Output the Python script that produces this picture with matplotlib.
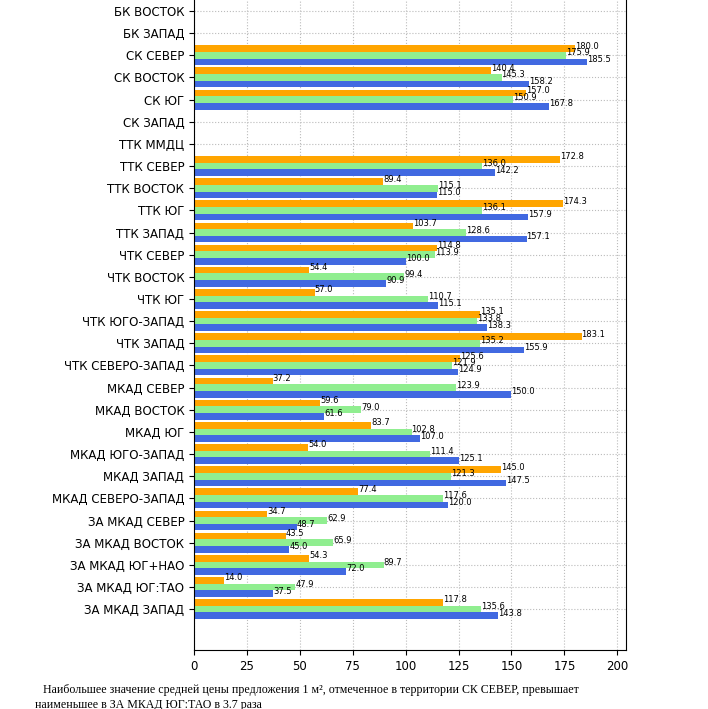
import numpy as np
import matplotlib
matplotlib.use("Agg")
import matplotlib.pyplot as plt

categories = ["БК ВОСТОК", "БК ЗАПАД", "СК СЕВЕР", "СК ВОСТОК", "СК ЮГ", "СК ЗАПАД",
              "ТТК ММДЦ", "ТТК СЕВЕР", "ТТК ВОСТОК", "ТТК ЮГ", "ТТК ЗАПАД",
              "ЧТК СЕВЕР", "ЧТК ВОСТОК", "ЧТК ЮГ", "ЧТК ЮГО-ЗАПАД", "ЧТК ЗАПАД",
              "ЧТК СЕВЕРО-ЗАПАД", "МКАД СЕВЕР", "МКАД ВОСТОК", "МКАД ЮГ",
              "МКАД ЮГО-ЗАПАД", "МКАД ЗАПАД", "МКАД СЕВЕРО-ЗАПАД", "ЗА МКАД СЕВЕР",
              "ЗА МКАД ВОСТОК", "ЗА МКАД ЮГ+НАО", "ЗА МКАД ЮГ:ТАО", "ЗА МКАД ЗАПАД"]
nan = np.nan
orange_vals = [nan, nan, 180.0, 140.4, 157.0, nan, nan, 172.8, 89.4, 174.3, 103.7,
               114.8, 54.4, 57.0, 135.1, 183.1, 125.6, 37.2, 59.6, 83.7, 54.0, 145.0,
               77.4, 34.7, 43.5, 54.3, 14.0, 117.8]
green_vals = [nan, nan, 175.9, 145.3, 150.9, nan, nan, 136.0, 115.1, 136.1, 128.6,
              113.9, 99.4, 110.7, 133.8, 135.2, 121.9, 123.9, 79.0, 102.8, 111.4, 121.3,
              117.6, 62.9, 65.9, 89.7, 47.9, 135.6]
blue_vals = [nan, nan, 185.5, 158.2, 167.8, nan, nan, 142.2, 115.0, 157.9, 157.1,
             100.0, 90.9, 115.1, 138.3, 155.9, 124.9, 150.0, 61.6, 107.0, 125.1, 147.5,
             120.0, 48.7, 45.0, 72.0, 37.5, 143.8]
x_ticks = [0, 25, 50, 75, 100, 125, 150, 175, 200]
caption1 = " Наибольшее значение средней цены предложения 1 м², отмеченное в территории СК СЕВЕР, превышает"
caption2 = "наименьшее в ЗА МКАД ЮГ:ТАО в 3.7 раза"

fig = plt.figure(figsize=(7.08, 7.09), dpi=100)
ax = fig.add_axes([0.274, 0.0832, 0.610, 0.959])

y = np.arange(len(categories))
h = 0.3
series = [(orange_vals, "orange", -h), (green_vals, "lightgreen", 0.0), (blue_vals, "royalblue", h)]
for vals, col, off in series:
    v = np.array(vals, dtype=float)
    ax.barh(y + off, v, height=h, color=col, zorder=2)
    for yi, vi in zip(y + off, v):
        if not np.isnan(vi):
            ax.text(vi, yi, f"{vi:.1f}", fontsize=6, color="black", zorder=3)

lo = y[0] - 1.5 * h
hi = y[-1] + 1.5 * h
m = 0.05 * (hi - lo)
ax.set_ylim(hi + m, lo - m)
ax.set_yticks(y)
ax.set_yticklabels(categories, fontsize=8.5)
ax.set_xticks(x_ticks)
ax.tick_params(axis="x", labelsize=8.5)
ax.set_xlim(0, np.nanmax(blue_vals) * 1.1)
ax.grid(True, linestyle=":", color="#bbbbbb", linewidth=0.8, zorder=0)
ax.set_axisbelow(True)

fig.text(40 / 708, 1 - 690 / 709, caption1, family="Liberation Serif", fontsize=8.55, va="center")
fig.text(35 / 708, 1 - 705 / 709, caption2, family="Liberation Serif", fontsize=8.55, va="center")

fig.savefig("out.png", dpi=100)
